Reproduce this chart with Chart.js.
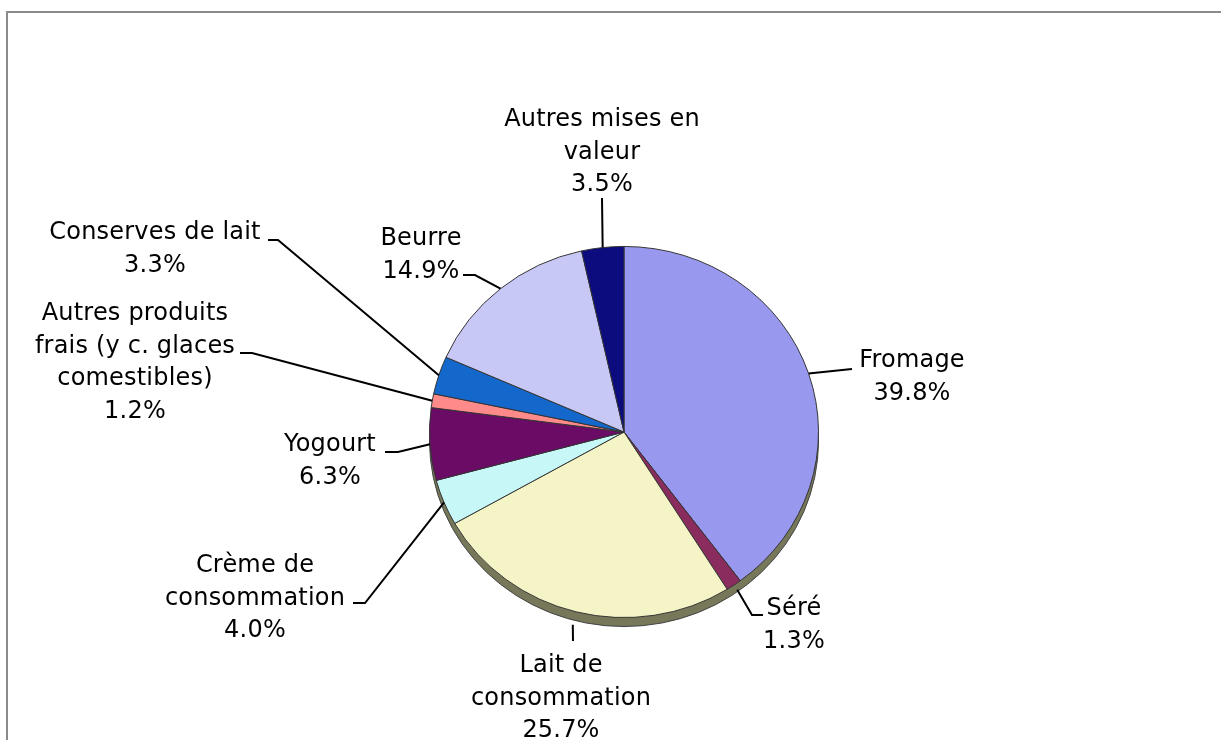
<!DOCTYPE html>
<html>
<head>
<meta charset="utf-8">
<script src="https://cdn.jsdelivr.net/npm/chart.js@4.4.1/dist/chart.umd.min.js"></script>
<style>
    html, body { margin: 0; padding: 0; background: #fff; }
    #wrap { position: relative; width: 1221px; height: 740px; overflow: hidden; }
    #frame { position: absolute; left: 6px; top: 11px; width: 1300px; height: 800px;
             border-top: 2px solid #8a8a8a; border-left: 2px solid #8a8a8a; }
    canvas { position: absolute; left: 0; top: 0; }
</style>
</head>
<body>
<div id="wrap">
    <div id="frame"></div>
    <canvas id="pieChart" width="1221" height="740"></canvas>
</div>
<script>
// Data (clockwise from 12 o'clock)
const categories = [
    'Fromage', 'Séré', 'Lait de consommation', 'Crème de consommation', 'Yogourt',
    'Autres produits frais (y c. glaces comestibles)', 'Conserves de lait', 'Beurre',
    'Autres mises en valeur'
];
const labelLines = [
    ['Fromage'], ['Séré'], ['Lait de', 'consommation'], ['Crème de', 'consommation'], ['Yogourt'],
    ['Autres produits', 'frais (y c. glaces', 'comestibles)'], ['Conserves de lait'], ['Beurre'],
    ['Autres mises en', 'valeur']
];
const shares = [39.8, 1.3, 25.7, 4.0, 6.3, 1.2, 3.3, 14.9, 3.5];
const sliceColors = [
    '#9898EE', '#8B2C5E', '#F5F4C6', '#C8F7F7', '#6A0C66',
    '#FF8A8A', '#1468CC', '#C8C8F6', '#0C0C7E'
];

// label placement: text centre x, first baseline, leader points after the slice edge
const labelLayout = [
    { cx: 912, y: 367, gap: 0, path: [[852, 369]] },
    { cx: 794, y: 615, gap: 6, path: [[752, 615], [763, 615]] },
    { cx: 561, y: 672, gap: 14, path: [[573, 641]] },
    { cx: 255, y: 572, gap: 0, path: [[365, 603], [353, 603]] },
    { cx: 330, y: 451, gap: 0, path: [[398, 452], [385, 452]] },
    { cx: 135, y: 320, gap: 0, path: [[252, 353], [240, 353]] },
    { cx: 155, y: 239, gap: 0, path: [[278, 240], [268, 240]] },
    { cx: 421, y: 245, gap: 0, path: [[475, 275], [463, 275]] },
    { cx: 602, y: 126, gap: 0, path: [[602, 198]] }
];

const squash = 0.954;   // pie is slightly tilted
const lineStep = 32.5;

const pieDepth = {
    id: 'pieDepth',
    beforeDatasetsDraw(chart) {
        const arc = chart.getDatasetMeta(0).data[0];
        const { x, y, outerRadius } = arc.getProps(['x', 'y', 'outerRadius'], true);
        const ctx = chart.ctx;
        ctx.save();
        ctx.beginPath();
        ctx.ellipse(x, y + 9, outerRadius, outerRadius * squash, 0, 0, Math.PI * 2);
        ctx.fillStyle = '#77775a';
        ctx.fill();
        ctx.lineWidth = 1;
        ctx.strokeStyle = '#444';
        ctx.stroke();
        ctx.translate(x, y);
        ctx.scale(1, squash);
        ctx.translate(-x, -y);
    },
    afterDatasetsDraw(chart) {
        chart.ctx.restore();
    }
};

const sliceLabels = {
    id: 'sliceLabels',
    afterDraw(chart) {
        const ctx = chart.ctx;
        const arcs = chart.getDatasetMeta(0).data;
        ctx.save();
        ctx.font = '24px "DejaVu Sans"';
        ctx.letterSpacing = '0.2px';
        ctx.fillStyle = '#000';
        ctx.strokeStyle = '#000';
        ctx.lineWidth = 2;
        ctx.textAlign = 'center';
        ctx.textBaseline = 'alphabetic';
        arcs.forEach((arc, i) => {
            const p = arc.getProps(['x', 'y', 'startAngle', 'endAngle', 'outerRadius'], true);
            const lay = labelLayout[i];
            const mid = (p.startAngle + p.endAngle) / 2;
            const r = p.outerRadius + lay.gap;
            ctx.beginPath();
            ctx.moveTo(p.x + r * Math.cos(mid), p.y + r * Math.sin(mid) * squash);
            lay.path.forEach(pt => ctx.lineTo(pt[0], pt[1]));
            ctx.stroke();
            const lines = labelLines[i].concat([shares[i].toFixed(1) + '%']);
            lines.forEach((t, k) => ctx.fillText(t, lay.cx, lay.y + k * lineStep));
        });
        ctx.restore();
    }
};

const ctx = document.getElementById('pieChart').getContext('2d');
new Chart(ctx, {
    type: 'pie',
    data: {
        labels: categories,
        datasets: [{
            data: shares,
            backgroundColor: sliceColors,
            borderColor: '#333',
            borderWidth: 1,
            clip: false
        }]
    },
    options: {
        responsive: false,
        animation: false,
        layout: { padding: { left: 429, right: 402, top: 237, bottom: 113 } },
        plugins: {
            legend: { display: false },
            tooltip: { enabled: false }
        }
    },
    plugins: [pieDepth, sliceLabels]
});
</script>
</body>
</html>
